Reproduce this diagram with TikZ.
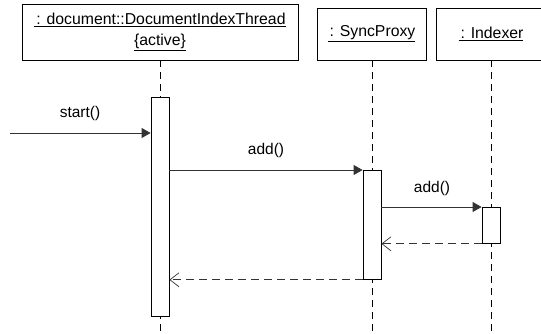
\documentclass[tikz,border=0pt]{standalone}
\usepackage{fontspec}
\setmainfont{Liberation Sans}
\usetikzlibrary{arrows.meta}

\tikzset{
    object/.style={rectangle,draw=black,line width=0.8pt,inner sep=0pt,align=center,
        font=\fontsize{15.8}{21}\selectfont},
    activation/.style={rectangle,draw=black,fill=white,line width=0.8pt,inner sep=0pt,minimum width=18pt},
    lifeline/.style={draw=black,line width=0.8pt,dash pattern=on 7pt off 5pt},
    call/.style={draw=black!80,line width=0.8pt,-{Triangle[length=9pt,width=10pt]}},
    reply/.style={draw=black!80,line width=0.8pt,dash pattern=on 8pt off 5pt,-{Straight Barb[length=9pt,width=14pt,line width=0.7pt]}},
    msg/.style={font=\fontsize{15.5}{18}\selectfont,inner sep=0pt}
}
\newcommand{\objname}[1]{\underline{\kern2pt#1}}

\begin{document}
\begin{tikzpicture}[x=1pt,y=-1pt]
    \useasboundingbox (0,0) rectangle (541,334);

    % objects
    \node[object,minimum width=276pt,minimum height=56pt] (T) at (160,32)
        {\objname{: document::DocumentIndexThread}\\\underline{\{active\}}};
    \node[object,minimum width=109pt,minimum height=52pt] (P) at (371.5,34) {\objname{: SyncProxy}};
    \node[object,minimum width=110pt,minimum height=52pt] (I) at (491,34) {\objname{: Indexer}};

    % lifelines
    \coordinate (Tend) at (160,334);
    \coordinate (Pend) at (372,334);
    \coordinate (Iend) at (491,334);
    \draw[lifeline] (T.south) -- (Tend);
    \draw[lifeline] (P.south -| Pend) -- (Pend);
    \draw[lifeline] (I.south -| Iend) -- (Iend);

    % activations
    \node[activation,minimum height=219pt,anchor=north] (A1) at (160,97) {};
    \node[activation,minimum height=109pt,anchor=north] (A2) at (372,170) {};
    \node[activation,minimum height=36pt,anchor=north] (A3) at (491,207) {};

    % messages
    \coordinate (S) at (10,133);
    \draw[call] (S) -- (A1.west |- S);
    \draw[call] (A1.east |- A2.north) -- (A2.north west);
    \draw[call] (A2.east |- A3.north) -- (A3.north west);
    \draw[reply] (A3.south west) -- (A2.east |- A3.south);
    \draw[reply] (A2.south west) -- (A1.east |- A2.south);

    % labels
    \node[msg] (L1) at (80,113) {start()};
    \node[msg] (L2) at (266,150) {add()};
    \node[msg] (L3) at (432,188) {add()};
\end{tikzpicture}
\end{document}
